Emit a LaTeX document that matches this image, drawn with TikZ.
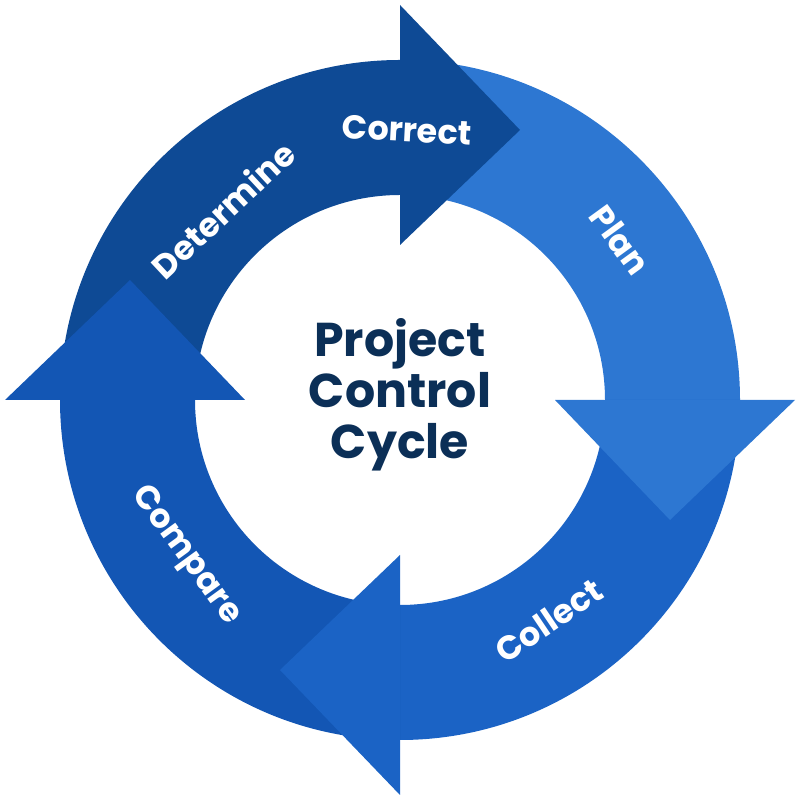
\documentclass[tikz,border=0pt]{standalone}
\usepackage{fontspec}
\setmainfont{Poppins}
\usetikzlibrary{calc}
\definecolor{darkblue}{HTML}{0E4A95}
\definecolor{planblue}{HTML}{2D77D2}
\definecolor{collectblue}{HTML}{1B63C5}
\definecolor{compareblue}{HTML}{1356B4}
\definecolor{titleblue}{HTML}{0B2F57}
\tikzset{
  step label/.style={text=white,font=\fontsize{9.5}{11}\selectfont\bfseries},
  title/.style={text=titleblue,align=center,font=\fontsize{13.5}{14.5}\selectfont\bfseries}
}
\begin{document}
\begin{tikzpicture}
\useasboundingbox (0,0) rectangle (8,8);
\begin{scope}[shift={(4,4)}]
% ring pieces
\foreach \a/\c in {180/darkblue,90/planblue,0/collectblue,-90/compareblue}
  \fill[\c] (\a:3.4) arc[start angle=\a,end angle=\a-90,radius=3.4]
    -- (\a-90:2.05) arc[start angle=\a-90,end angle=\a,radius=2.05] -- cycle;
% heads
\foreach \a/\c in {90/darkblue,0/planblue,-90/collectblue,180/compareblue}
  \fill[\c] (\a:1.55) -- (\a:3.95) -- ($(\a:2.7)+(\a-90:1.2)$) -- cycle;
\node[step label,rotate=43] (determine) at (133:2.6) {Determine};
\node[step label,rotate=-3] (correct) at (88.5:2.7) {Correct};
\node[step label,rotate=-54] (plan) at (36:2.72) {Plan};
\node[step label,rotate=34] (collect) at (-56:2.66) {Collect};
\node[step label,rotate=-54] (compare) at (-144:2.65) {Compare};
\node[title] (cycle) at (0,0.05) {Project\\Control\\Cycle};
\end{scope}
\end{tikzpicture}
\end{document}
